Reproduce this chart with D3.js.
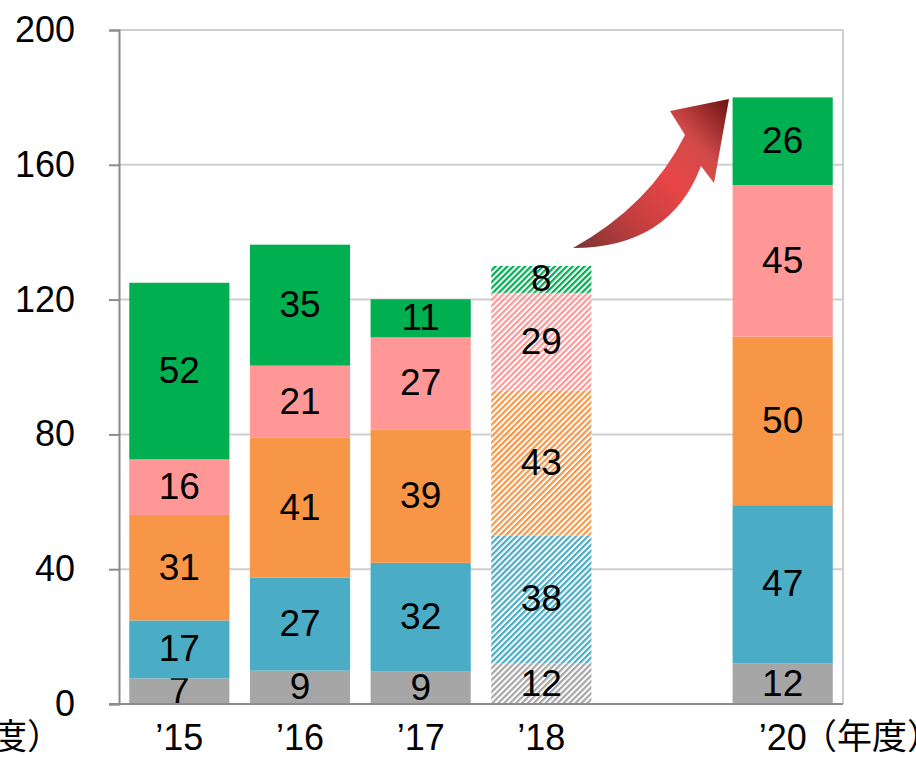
<!DOCTYPE html>
<html>
<head>
<meta charset="utf-8">
<script src="https://cdn.jsdelivr.net/npm/d3@7"></script>
<style>
  body { margin: 0; background: #fff; }
  text { font-family: "Liberation Sans", Arial, "Noto Sans CJK JP", sans-serif; }
</style>
</head>
<body>
<svg id="chart" width="916" height="758"></svg>
<script>
// data (labels show whole units)
const slots = ["’15", "’16", "’17", "’18", "’19", "’20"];
const years = ["’15", "’16", "’17", "’18", "’20"];
const grey = [7.6, 9.9, 9.6, 12, 12];
const blue = [17.2, 27.6, 32.3, 38, 47];
const orange = [31.3, 41.5, 39.5, 43, 50];
const pink = [16.5, 21.4, 27.4, 29, 45];
const green = [52.4, 35.9, 11.3, 8, 26];
const planned = [false, false, false, true, false];
const yTicks = [0, 40, 80, 120, 160, 200];

const seriesNames = ["grey", "blue", "orange", "pink", "green"];
const seriesValues = [grey, blue, orange, pink, green];
const colors = ["#a6a6a6", "#4bacc6", "#f79646", "#ff9797", "#00b050"];

const svg = d3.select("#chart");

const x = d3
  .scaleBand()
  .domain(slots)
  .range([119, 843])
  .paddingInner(0.17)
  .paddingOuter(0.085);

const y = d3.scaleLinear().domain([0, 200]).range([704, 30]);

const table = years.map((yr, i) => {
  let row = { year: yr, planned: planned[i] };
  seriesNames.forEach((s, j) => (row[s] = seriesValues[j][i]));
  return row;
});
const stacked = d3.stack().keys(seriesNames)(table);

// hatch patterns for the planned year
const defs = svg.append("defs");
seriesNames.forEach((s, j) => {
  let p = defs
    .append("pattern")
    .attr("id", "hatch-" + s)
    .attr("patternUnits", "userSpaceOnUse")
    .attr("width", 4.2)
    .attr("height", 4.2)
    .attr("patternTransform", "rotate(45)");
  p.append("rect")
    .attr("width", 4.2)
    .attr("height", 4.2)
    .attr("fill", "#fff")
    .attr("opacity", 0.55);
  p.append("rect")
    .attr("width", 2.2)
    .attr("height", 4.2)
    .attr("fill", colors[j]);
});

// arrow gradient
const grad = defs
  .append("linearGradient")
  .attr("id", "arrowGrad")
  .attr("gradientUnits", "userSpaceOnUse")
  .attr("x1", 573)
  .attr("y1", 248)
  .attr("x2", 729)
  .attr("y2", 99);
[
  [0, "#7a3434"],
  [0.3, "#c63e3e"],
  [0.55, "#e84646"],
  [0.75, "#d24a4a"],
  [1, "#6a1212"],
].forEach((d) => grad.append("stop").attr("offset", d[0]).attr("stop-color", d[1]));

// gridlines
svg
  .append("g")
  .selectAll("line")
  .data(yTicks.filter((t) => t > 0))
  .join("line")
  .attr("x1", 119)
  .attr("x2", 843)
  .attr("y1", (d) => y(d))
  .attr("y2", (d) => y(d))
  .attr("stroke", "#cfcfcf")
  .attr("stroke-width", 2);

// right frame line
svg
  .append("line")
  .attr("x1", 843)
  .attr("x2", 843)
  .attr("y1", y(200))
  .attr("y2", y(0))
  .attr("stroke", "#cfcfcf")
  .attr("stroke-width", 2);

// bars
const layers = svg
  .append("g")
  .selectAll("g")
  .data(stacked)
  .join("g");

layers
  .selectAll("rect")
  .data((d) => d.map((v) => ({ key: d.key, v: v })))
  .join("rect")
  .attr("x", (d) => x(d.v.data.year))
  .attr("width", x.bandwidth())
  .attr("y", (d) => y(d.v[1]))
  .attr("height", (d) => y(d.v[0]) - y(d.v[1]))
  .attr("fill", (d) =>
    d.v.data.planned
      ? "url(#hatch-" + d.key + ")"
      : colors[seriesNames.indexOf(d.key)]
  );

// value labels
layers
  .selectAll("text")
  .data((d) => d.map((v) => ({ key: d.key, v: v })))
  .join("text")
  .attr("x", (d) => x(d.v.data.year) + x.bandwidth() / 2)
  .attr("y", (d) => (y(d.v[0]) + y(d.v[1])) / 2)
  .attr("dy", "0.32em")
  .attr("text-anchor", "middle")
  .attr("font-size", "37px")
  .attr("fill", "#000")
  .text((d) => Math.floor(d.v.data[d.key]));

// y axis
const yAxis = svg
  .append("g")
  .attr("transform", "translate(119,0)")
  .call(d3.axisLeft(y).tickValues(yTicks).tickSize(10).tickPadding(34));
yAxis.select(".domain").attr("stroke", "#8c8c8c").attr("stroke-width", 2);
yAxis.selectAll(".tick line").attr("stroke", "#8c8c8c").attr("stroke-width", 2);
yAxis
  .selectAll(".tick text")
  .attr("font-size", "36px")
  .attr("font-family", "Liberation Sans, Arial, sans-serif")
  .attr("fill", "#000");

// baseline
svg
  .append("line")
  .attr("x1", 109)
  .attr("x2", 843)
  .attr("y1", y(0))
  .attr("y2", y(0))
  .attr("stroke", "#8c8c8c")
  .attr("stroke-width", 2);

// x labels
svg
  .append("g")
  .selectAll("text")
  .data(years)
  .join("text")
  .attr("x", (d) => x(d) + x.bandwidth() / 2)
  .attr("y", 750)
  .attr("text-anchor", "middle")
  .attr("font-size", "36px")
  .text((d) => d);

// unit label, after the last year and again clipped at the left edge
svg
  .append("text")
  .attr("x", 942)
  .attr("y", 749)
  .attr("text-anchor", "end")
  .attr("font-size", "35px")
  .attr("font-family", "Noto Sans CJK JP, sans-serif")
  .text("（年度）");
svg
  .append("text")
  .attr("x", 62)
  .attr("y", 749)
  .attr("text-anchor", "end")
  .attr("font-size", "35px")
  .attr("font-family", "Noto Sans CJK JP, sans-serif")
  .text("（年度）");

// curved growth arrow
svg
  .append("path")
  .attr(
    "d",
    "M573,248 Q650,205 685,135 L670,111 L729,99 L714,183 L701,166 Q670,248 573,248 Z"
  )
  .attr("fill", "url(#arrowGrad)");
</script>
</body>
</html>
